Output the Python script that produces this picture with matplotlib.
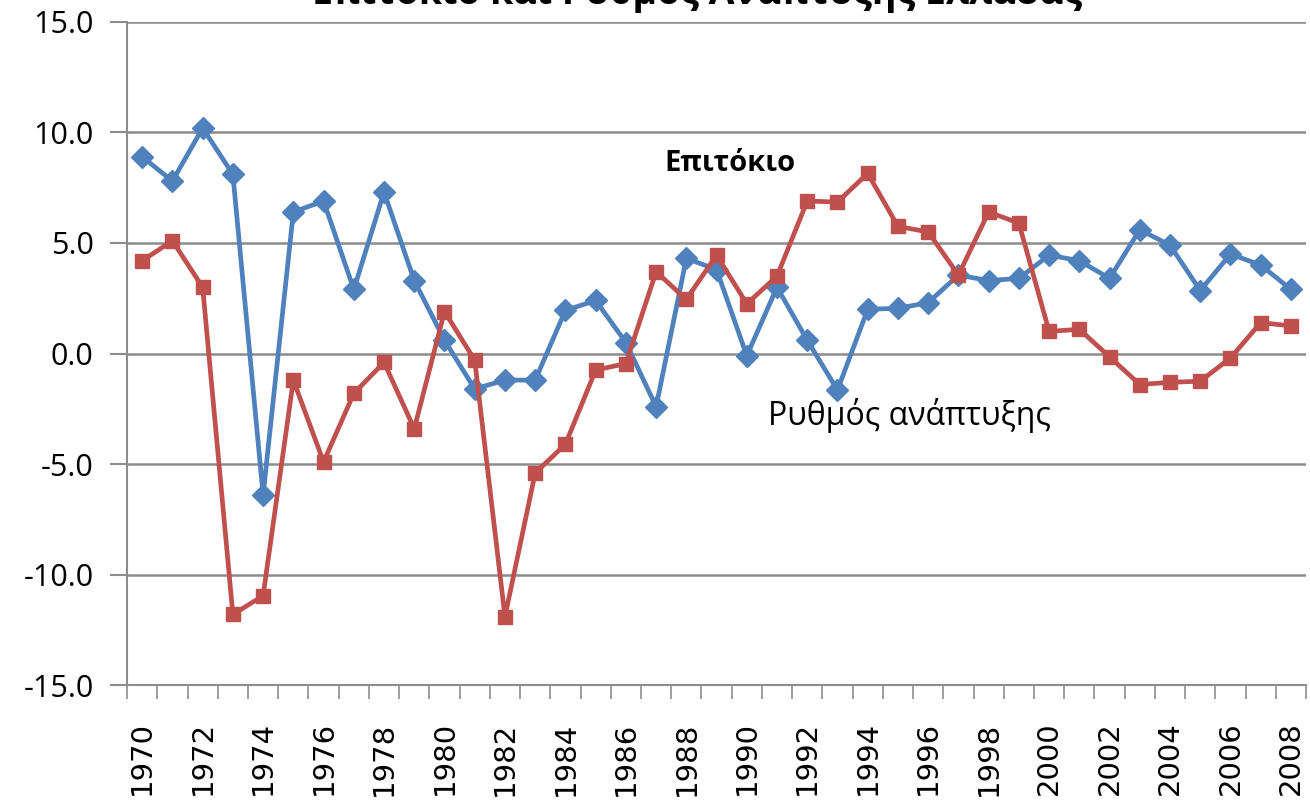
import numpy as np
import matplotlib.pyplot as plt
from matplotlib.ticker import FixedLocator

# Data
years = list(range(1970, 2009))
growth = [8.9, 7.8, 10.2, 8.1, -6.4, 6.4, 6.9, 2.9, 7.3, 3.3,
          0.6, -1.6, -1.2, -1.2, 1.95, 2.4, 0.5, -2.4, 4.3, 3.8,
          -0.1, 3.0, 0.6, -1.65, 2.0, 2.05, 2.3, 3.55, 3.3, 3.4,
          4.45, 4.2, 3.4, 5.6, 4.9, 2.85, 4.5, 4.0, 2.9]
interest = [4.2, 5.1, 3.0, -11.8, -10.95, -1.2, -4.9, -1.8, -0.4, -3.4,
            1.9, -0.3, -11.9, -5.4, -4.1, -0.75, -0.45, 3.7, 2.45, 4.45,
            2.25, 3.5, 6.9, 6.85, 8.15, 5.75, 5.5, 3.55, 6.4, 5.9,
            1.0, 1.1, -0.15, -1.4, -1.3, -1.25, -0.2, 1.4, 1.25]
year_labels = [str(y) if (y - 1970) % 2 == 0 else '' for y in years]
y_ticks = [-15, -10, -5, 0, 5, 10, 15]

title = 'Επιτόκιο και Ρυθμός Ανάπτυξης Ελλάδας'
label_interest = 'Επιτόκιο'
label_growth = 'Ρυθμός ανάπτυξης'

blue = '#4F81BD'
red = '#C0504D'
grid_col = '#8C8C8C'

fig = plt.figure(figsize=(13.1, 8.1), dpi=100)
ax = fig.add_axes([0.097, 0.154, 0.9, 0.819])

x = np.arange(len(years))
ax.plot(x, growth, color=blue, lw=3.4, marker='D', markersize=11, zorder=3)
ax.plot(x, interest, color=red, lw=3.4, marker='s', markersize=10, zorder=3)

ax.set_xlim(-0.5, len(years) - 0.5)
ax.set_ylim(-15, 15)
ax.set_yticks(y_ticks)
ax.set_yticklabels(['%.1f' % v for v in y_ticks], fontsize=22, family='Open Sans')
ax.grid(axis='y', color=grid_col, lw=1.8, zorder=0)

# category axis: labels at centres, tick marks between categories
ax.set_xticks(x)
ax.set_xticklabels(year_labels, rotation=90, fontsize=21, family='DejaVu Sans')
ax.tick_params(axis='x', which='major', length=0, pad=26)
ax.xaxis.set_minor_locator(FixedLocator(np.arange(-0.5, len(years), 1)))
ax.tick_params(axis='x', which='minor', length=10, width=1.2, color=grid_col)
ax.tick_params(axis='y', length=12, width=1.5, color=grid_col, pad=12)

for s in ['top', 'right']:
    ax.spines[s].set_visible(False)
for s in ['left', 'bottom']:
    ax.spines[s].set_color(grid_col)
    ax.spines[s].set_linewidth(1.5)

ax.text(19.45, 8.6, label_interest, fontsize=21, fontweight='bold',
        family='Open Sans', ha='center', va='center')
ax.text(20.7, -2.8, label_growth, fontsize=23,
        family='Open Sans', ha='left', va='center')

# title sits mostly above the visible area, as in the reference
fig.text(0.532, 1 - 4 / 810, title, ha='center', va='baseline',
         fontsize=27, fontweight='bold', family='Open Sans')

fig.savefig('out.png', dpi=100)
